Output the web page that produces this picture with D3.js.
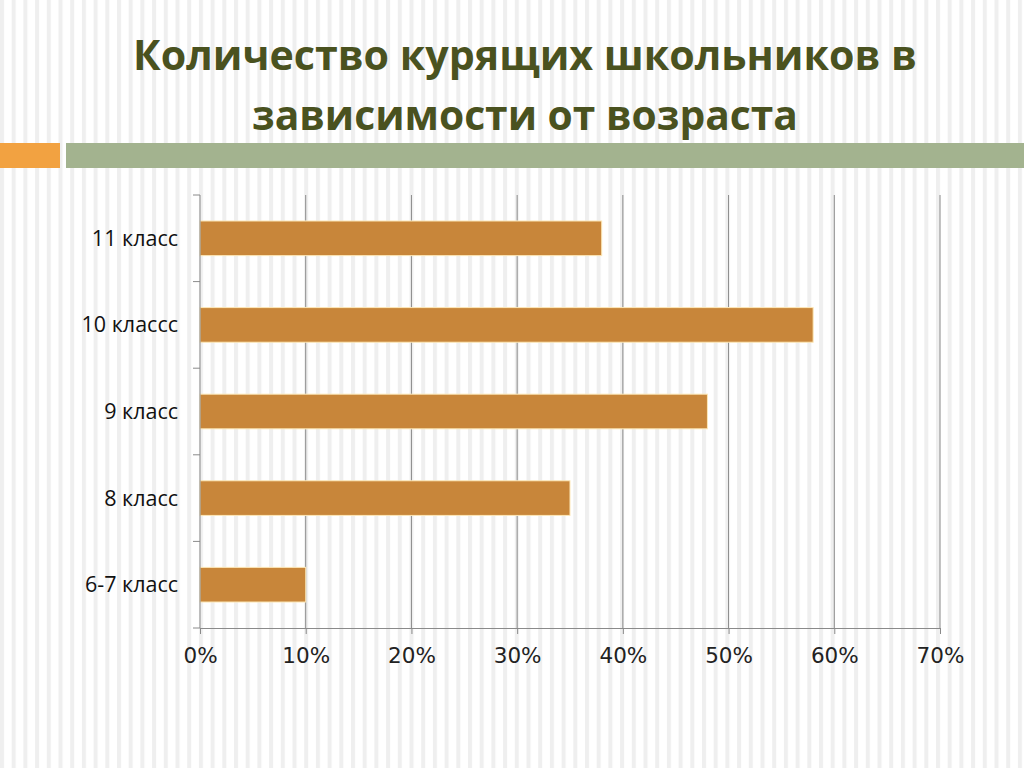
<!DOCTYPE html>
<html><head><meta charset="utf-8">
<script src="https://cdn.jsdelivr.net/npm/d3@7"></script>
<style>body{margin:0;background:#fff}svg{display:block}</style>
</head><body>
<script>
const titleLines = ["Количество курящих школьников в", "зависимости от возраста"];
const categories = ["11 класс", "10 классс", "9 класс", "8 класс", "6-7 класс"];
const values = [38, 58, 48, 35, 10];
const tickValues = [0, 10, 20, 30, 40, 50, 60, 70];

const W = 1024, H = 768;
const svg = d3.select("body").append("svg").attr("width", W).attr("height", H);
const defs = svg.append("defs");
const pat = defs.append("pattern").attr("id","stripes").attr("patternUnits","userSpaceOnUse")
  .attr("width", 11.7).attr("height", 10);
pat.append("rect").attr("width", 11.7).attr("height", 10).attr("fill", "#fff");
pat.append("rect").attr("x", 0).attr("width", 4).attr("height", 10).attr("fill", "#efefef");
svg.append("rect").attr("width", W).attr("height", H).attr("fill", "url(#stripes)");

// title
const tl = [{t: titleLines[0], y: 70, len: 784}, {t: titleLines[1], y: 130, len: 546}];
svg.selectAll("text.title").data(tl).enter().append("text").attr("class","title")
  .attr("x", 525).attr("y", d => d.y).attr("text-anchor","middle")
  .attr("font-family","'Open Sans', sans-serif").attr("font-weight","bold")
  .attr("font-size", 42).attr("fill","#4a521f")
  .attr("textLength", d => d.len).attr("lengthAdjust","spacingAndGlyphs")
  .text(d => d.t);

// decorative bars
svg.append("rect").attr("x",0).attr("y",143).attr("width",60).attr("height",25).attr("fill","#f2a241");
svg.append("rect").attr("x",66).attr("y",143).attr("width",W-66).attr("height",25).attr("fill","#a3b38f");

const x = d3.scaleLinear().domain([0, 70]).range([200, 940]);
const y = d3.scaleBand().domain(categories).range([195, 628]).paddingInner(0.6).paddingOuter(0.3);
const yb = d3.scaleBand().domain(categories).range([195, 628]);

// gridlines
svg.append("g").selectAll("line").data(tickValues.slice(1)).enter().append("line")
  .attr("x1", d => x(d)).attr("x2", d => x(d)).attr("y1", 195).attr("y2", 628)
  .attr("stroke", "#8a8a8a").attr("stroke-width", 1);

// bars
svg.append("g").selectAll("rect").data(categories).enter().append("rect")
  .attr("x", x(0)).attr("y", d => y(d)).attr("width", (d,i) => x(values[i]) - x(0))
  .attr("height", y.bandwidth()).attr("fill", "#c8863a")
  .attr("stroke", "#fde8b8").attr("stroke-width", 1);

// x axis
const xa = svg.append("g").attr("transform", "translate(0,628)")
  .call(d3.axisBottom(x).tickValues(tickValues).tickFormat(d => d + "%").tickSize(6).tickPadding(14));
xa.select(".domain").attr("stroke", "#8a8a8a");
xa.selectAll(".tick line").attr("stroke", "#8a8a8a");
xa.selectAll("text").attr("font-family","'DejaVu Sans', sans-serif").attr("font-size", 21.5).attr("fill","#222");

// y axis
const ya = svg.append("g").attr("transform", "translate(200,0)");
ya.append("line").attr("x1",0).attr("x2",0).attr("y1",195).attr("y2",628).attr("stroke","#8a8a8a");
ya.selectAll("line.t").data(categories.concat(["end"])).enter().append("line").attr("class","t")
  .attr("x1", -7).attr("x2", 0)
  .attr("y1", (d,i) => i < categories.length ? yb(d) : 628)
  .attr("y2", (d,i) => i < categories.length ? yb(d) : 628)
  .attr("stroke","#8a8a8a");
ya.selectAll("text").data(categories).enter().append("text")
  .attr("x", -22).attr("y", d => yb(d) + yb.bandwidth()/2).attr("dy","0.35em")
  .attr("text-anchor","end").attr("font-family","'Open Sans', sans-serif")
  .attr("font-size", 21.5).attr("fill","#111").text(d => d);
</script>
</body></html>
